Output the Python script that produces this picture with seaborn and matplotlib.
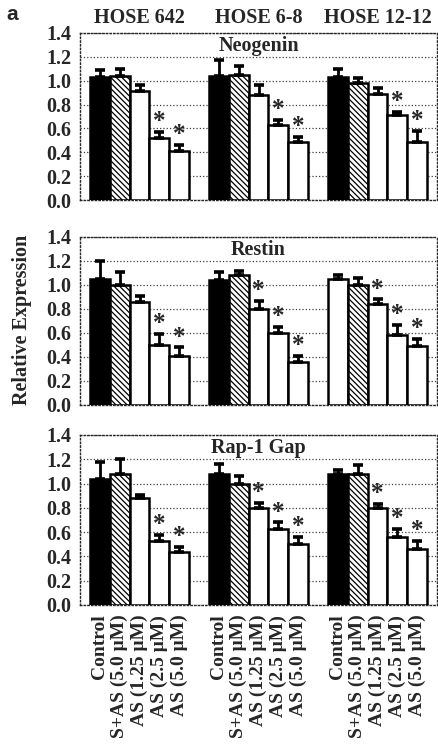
import numpy as np
import pandas as pd
import matplotlib
matplotlib.use("Agg")
import matplotlib.pyplot as plt
from matplotlib.container import BarContainer
import seaborn as sns

cell_lines = ["HOSE 642", "HOSE 6-8", "HOSE 12-12"]
treatments = ["Control", "S+AS (5.0 μM)", "AS (1.25 μM)", "AS (2.5 μM)", "AS (5.0 μM)"]
genes = ["Neogenin", "Restin", "Rap-1 Gap"]
y_ticks = [0.0, 0.2, 0.4, 0.6, 0.8, 1.0, 1.2, 1.4]

# mean values [cell line][treatment]
neogenin_mean = [[1.03, 1.04, 0.91, 0.52, 0.41],
                 [1.04, 1.05, 0.88, 0.63, 0.49],
                 [1.03, 0.98, 0.89, 0.71, 0.49]]
neogenin_err = [[0.06, 0.06, 0.05, 0.05, 0.05],
                [0.13, 0.07, 0.08, 0.04, 0.04],
                [0.07, 0.04, 0.05, 0.03, 0.09]]
neogenin_sig = [[0, 0, 0, 1, 1], [0, 0, 0, 1, 1], [0, 0, 0, 1, 1]]

restin_mean = [[1.05, 1.00, 0.86, 0.50, 0.41],
               [1.04, 1.08, 0.80, 0.60, 0.36],
               [1.05, 1.00, 0.84, 0.58, 0.49]]
restin_err = [[0.15, 0.11, 0.05, 0.09, 0.07],
              [0.07, 0.04, 0.07, 0.05, 0.05],
              [0.03, 0.06, 0.04, 0.09, 0.06]]
restin_sig = [[0, 0, 0, 1, 1], [0, 0, 1, 1, 1], [0, 0, 1, 1, 1]]

rap_mean = [[1.04, 1.08, 0.88, 0.53, 0.44],
            [1.08, 1.00, 0.80, 0.63, 0.50],
            [1.08, 1.08, 0.80, 0.56, 0.46]]
rap_err = [[0.14, 0.12, 0.03, 0.05, 0.04],
           [0.08, 0.06, 0.04, 0.05, 0.06],
           [0.03, 0.07, 0.03, 0.07, 0.07]]
rap_sig = [[0, 0, 0, 1, 1], [0, 0, 1, 1, 1], [0, 0, 1, 1, 1]]

means = [neogenin_mean, restin_mean, rap_mean]
errs = [neogenin_err, restin_err, rap_err]
sigs = [neogenin_sig, restin_sig, rap_sig]

serif = ["Liberation Serif", "DejaVu Serif"]
sns.set_theme(style="white")
plt.rcParams["font.family"] = serif
plt.rcParams["font.weight"] = "bold"
plt.rcParams["hatch.linewidth"] = 0.9

fig = plt.figure(figsize=(4.38, 7.53), dpi=100)
W, H = 438.0, 753.0
panel_px = [(33, 200), (237, 405), (435, 605)]
left_px, right_px = 80, 437

for gi, gene in enumerate(genes):
    top, bot = panel_px[gi]
    ax = fig.add_axes([left_px / W, 1 - bot / H, (right_px - left_px) / W, (bot - top) / H])
    rows = []
    for ci, cl in enumerate(cell_lines):
        for ti, tr in enumerate(treatments):
            rows.append({"cell": cl, "treat": tr, "value": means[gi][ci][ti]})
    df = pd.DataFrame(rows)
    sns.barplot(data=df, x="cell", y="value", hue="treat", order=cell_lines,
                hue_order=treatments, width=0.84, errorbar=None, legend=False,
                ax=ax, zorder=3)
    bar_conts = [c for c in ax.containers if isinstance(c, BarContainer)]
    for ti, cont in enumerate(bar_conts):
        for ci, patch in enumerate(cont.patches):
            patch.set_edgecolor("black")
            patch.set_linewidth(1.8)
            if ti == 0:
                # scanned Restin / HOSE 12-12 control bar appears unfilled
                fc = "white" if (gene == "Restin" and ci == 2) else "black"
                patch.set_facecolor(fc)
            elif ti == 1:
                patch.set_facecolor("white")
                patch.set_hatch("\\\\\\\\\\\\")
            else:
                patch.set_facecolor("white")
            xc = patch.get_x() + patch.get_width() / 2
            h = patch.get_height()
            e = errs[gi][ci][ti]
            ax.errorbar([xc], [h], yerr=[[0], [e]], fmt="none", ecolor="black",
                        elinewidth=2.0, capsize=3.6, capthick=2.6, zorder=4)
            if sigs[gi][ci][ti]:
                ax.text(xc, h + e - 0.01, "*", ha="center", va="bottom",
                        fontsize=18, fontweight="bold", zorder=5)
    ax.set_ylim(0, 1.4)
    ax.set_xlim(-0.5, 2.5)
    ax.set_yticks(y_ticks)
    ax.set_yticklabels([f"{v:.1f}" for v in y_ticks], fontsize=14.5, fontweight="bold")
    ax.tick_params(axis="y", length=0, pad=6)
    ax.set_ylabel("")
    ax.set_xlabel("")
    ax.yaxis.grid(True, linestyle=":", color="0.25", linewidth=0.9)
    ax.set_axisbelow(True)
    for sp in ax.spines.values():
        sp.set_linestyle(":")
        sp.set_color("0.15")
        sp.set_linewidth(1.0)
    ax.text(0.5, 0.985, gene, transform=ax.transAxes, ha="center", va="top",
            fontsize=14.5, fontweight="bold")
    if gi == 2:
        centers = []
        labels = []
        for ci in range(len(cell_lines)):
            for ti in range(len(treatments)):
                p = bar_conts[ti].patches[ci]
                centers.append(p.get_x() + p.get_width() / 2)
                labels.append(treatments[ti])
        ax.set_xticks(centers)
        ax.set_xticklabels(labels, rotation=90, fontsize=14, fontweight="bold",
                           va="top", ha="center")
        ax.tick_params(axis="x", length=0, pad=7)
    else:
        ax.set_xticks([])
    if gi == 0:
        for ci, cl in enumerate(cell_lines):
            ax.text(ci, 1.0 + 15 / (bot - top), cl, transform=ax.get_xaxis_transform(),
                    ha="center", va="center", fontsize=14.5, fontweight="bold")

fig.text(22 / W, 1 - 320 / H, "Relative Expression", rotation=90, ha="center",
         va="center", fontsize=14.5, fontweight="bold")
fig.text(6 / W, 1 - 14 / H, "a", ha="left", va="center", fontsize=15,
         fontweight="bold", family=["Liberation Sans", "DejaVu Sans"])

fig.savefig("out.png", dpi=100)
